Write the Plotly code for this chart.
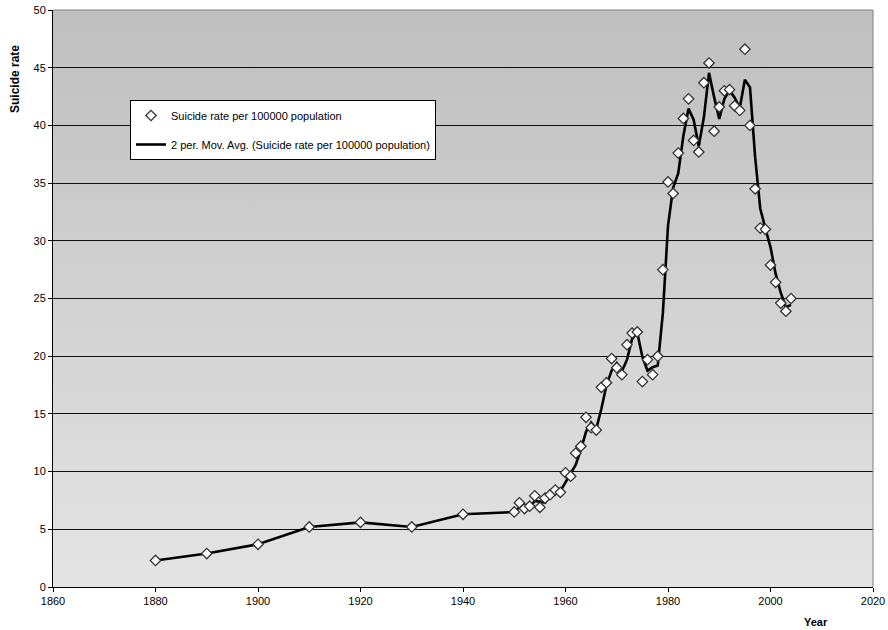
import base64
import plotly.graph_objects as go

# Observed suicide rate per 100000 population
years = [1880, 1890, 1900, 1910, 1920, 1930, 1940, 1950,
         1951, 1952, 1953, 1954, 1955, 1956, 1957, 1958, 1959,
         1960, 1961, 1962, 1963, 1964, 1965, 1966, 1967, 1968, 1969,
         1970, 1971, 1972, 1973, 1974, 1975, 1976, 1977, 1978, 1979,
         1980, 1981, 1982, 1983, 1984, 1985, 1986, 1987, 1988, 1989,
         1990, 1991, 1992, 1993, 1994, 1995, 1996, 1997, 1998, 1999,
         2000, 2001, 2002, 2003, 2004]
rates = [2.3, 2.9, 3.7, 5.2, 5.6, 5.2, 6.3, 6.5,
         7.3, 6.8, 7.0, 7.9, 6.9, 7.7, 8.0, 8.4, 8.2,
         9.9, 9.6, 11.6, 12.2, 14.7, 13.8, 13.6, 17.3, 17.7, 19.8,
         19.0, 18.4, 21.0, 22.0, 22.1, 17.8, 19.7, 18.4, 20.0, 27.5,
         35.1, 34.1, 37.6, 40.6, 42.3, 38.7, 37.7, 43.7, 45.4, 39.5,
         41.6, 43.0, 43.1, 41.7, 41.3, 46.6, 40.0, 34.5, 31.1, 31.0,
         27.9, 26.4, 24.6, 23.9, 25.0]

# 2-period moving average trend line
avg_years = years
avg_rates = [2.3, 2.9, 3.7, 5.2, 5.6, 5.2, 6.3, 6.5,
             6.9, 7.05, 6.9, 7.45, 7.4, 7.3, 7.85, 8.2, 8.3,
             9.05, 9.75, 10.6, 11.9, 13.45, 14.25, 13.7, 15.45, 17.5, 18.75,
             19.4, 18.7, 19.7, 21.5, 22.05, 19.95, 18.75, 19.05, 19.2, 23.75,
             31.3, 34.6, 35.85, 39.1, 41.45, 40.5, 38.2, 40.7, 44.55, 42.45,
             40.55, 42.3, 43.05, 42.4, 41.5, 43.95, 43.3, 37.25, 32.8, 31.05,
             29.45, 27.15, 25.5, 24.25, 24.45]

x_ticks = [1860, 1880, 1900, 1920, 1940, 1960, 1980, 2000, 2020]
y_ticks = [0, 5, 10, 15, 20, 25, 30, 35, 40, 45, 50]

FONT = "Liberation Sans, Arial, sans-serif"
W, H = 888, 630
ML, MR, MT, MB = 53, 15, 10, 43
PW, PH = W - ML - MR, H - MT - MB

# vertical grey gradient for the plotting area
svg = (
    '<svg xmlns="http://www.w3.org/2000/svg" width="100" height="100" preserveAspectRatio="none">'
    '<defs><linearGradient id="g" x1="0" y1="0" x2="0" y2="1">'
    '<stop offset="0" stop-color="#bfbfbf"/><stop offset="1" stop-color="#e4e4e4"/>'
    '</linearGradient></defs><rect width="100" height="100" fill="url(#g)"/></svg>'
)
bg_uri = "data:image/svg+xml;base64," + base64.b64encode(svg.encode()).decode()

fig = go.Figure()
fig.add_trace(go.Scatter(
    x=avg_years, y=avg_rates, mode="lines",
    name="2 per. Mov. Avg. (Suicide rate per 100000 population)",
    legendgroup="b", legendrank=2,
    line=dict(color="black", width=2.6),
))
fig.add_trace(go.Scatter(
    x=years, y=rates, mode="markers",
    name="Suicide rate per 100000 population",
    legendgroup="a", legendrank=1,
    marker=dict(symbol="diamond", size=8, color="white",
                line=dict(color="#333333", width=1.3)),
))

fig.add_layout_image(dict(
    source=bg_uri, xref="x", yref="y", x=1860, y=50, sizex=160, sizey=50,
    sizing="stretch", layer="below", xanchor="left", yanchor="top",
))


def px_x(p):
    return (p - ML) / PW


def px_y(p):
    return (H - MB - p) / PH


fig.update_layout(
    width=W, height=H,
    margin=dict(l=ML, r=MR, t=MT, b=MB, autoexpand=False),
    paper_bgcolor="white",
    plot_bgcolor="rgba(0,0,0,0)",
    font=dict(family=FONT, size=11, color="black"),
    showlegend=True,
    legend=dict(
        x=px_x(130), y=px_y(100), xanchor="left", yanchor="top",
        bgcolor="white", bordercolor="black", borderwidth=1,
        font=dict(family=FONT, size=11, color="black"),
        traceorder="grouped", tracegroupgap=10, itemwidth=30,
    ),
    annotations=[
        dict(text="<b>Suicide rate</b>", x=px_x(15), y=px_y(79),
             xref="paper", yref="paper", xanchor="center", yanchor="middle",
             showarrow=False, textangle=-90,
             font=dict(family=FONT, size=12)),
        dict(text="<b>Year</b>", x=px_x(816), y=px_y(622),
             xref="paper", yref="paper", xanchor="center", yanchor="middle",
             showarrow=False, font=dict(family=FONT, size=11)),
    ],
)

fig.update_xaxes(
    range=[1860, 2020], tickvals=x_ticks, ticks="outside", ticklen=4,
    tickcolor="black", showgrid=False, zeroline=False, automargin=False,
    showline=True, linecolor="black", linewidth=1, mirror=False,
    tickfont=dict(family=FONT, size=11),
)
fig.update_yaxes(
    range=[0, 50], tickvals=y_ticks, ticks="outside", ticklen=4,
    tickcolor="black", showgrid=True, gridcolor="#111111", gridwidth=1,
    zeroline=False, showline=True, linecolor="black", linewidth=1,
    automargin=False, tickfont=dict(family=FONT, size=11),
)
# grey frame on the top and right of the plotting area
fig.add_shape(type="line", xref="x domain", yref="y domain", x0=0, x1=1, y0=1, y1=1,
              line=dict(color="#808080", width=1))
fig.add_shape(type="line", xref="x domain", yref="y domain", x0=1, x1=1, y0=0, y1=1,
              line=dict(color="#808080", width=1))

fig.write_html("out.html")
